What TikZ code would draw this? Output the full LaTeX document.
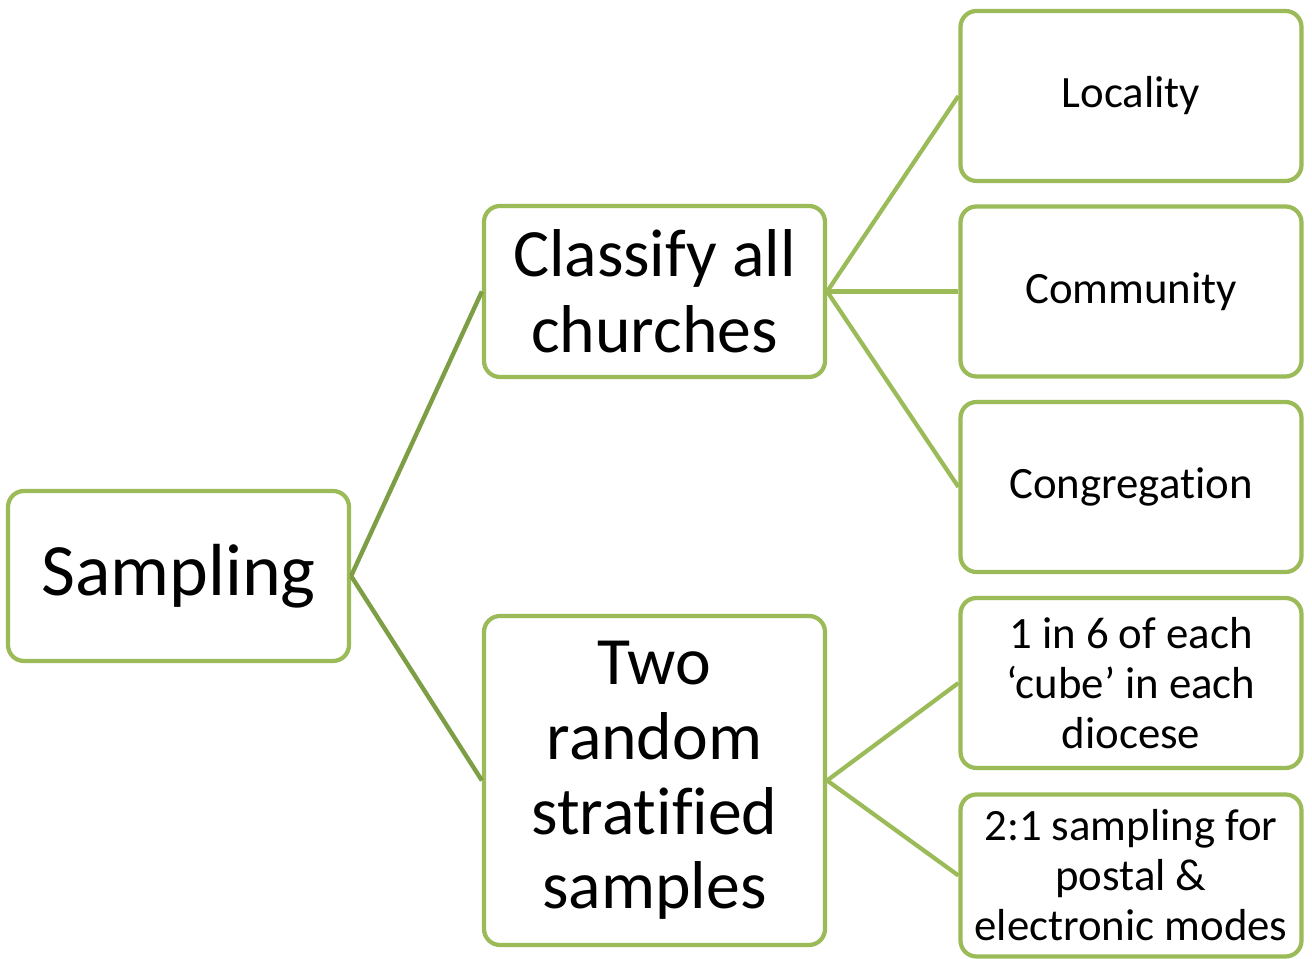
\documentclass[tikz,border=0pt]{standalone}
\usepackage{fontspec}
\setmainfont[Ligatures={NoCommon,NoDiscretionary,NoRare}]{Carlito}
\definecolor{boxgreen}{RGB}{155,187,89}
\definecolor{linegreen}{RGB}{125,158,68}

\tikzset{
  box/.style={draw=boxgreen, line width=2.4pt, rounded corners=0.32cm, fill=white,
    align=center, minimum width=6.82cm, inner sep=0pt},
  link/.style={draw=boxgreen, line width=2.4pt},
  trunk/.style={draw=linegreen, line width=2.5pt}
}

\begin{document}
\begin{tikzpicture}
            \useasboundingbox (0,0) rectangle (26.24,19.18);
            % root
            \node[box, minimum height=3.4cm, font=\fontsize{42}{48}\selectfont] (sampling) at (3.57,7.66) {Sampling};
            % second level
            \node[box, minimum height=3.42cm, font=\fontsize{38.5}{43}\selectfont] (classify) at (13.09,13.35) {Classify all\\churches};
            \node[box, minimum height=6.58cm, font=\fontsize{38.5}{42.5}\selectfont] (strata) at (13.09,3.57) {Two\\random\\stratified\\samples};
            % leaves
            \node[box, minimum height=3.4cm, font=\fontsize{25.5}{28.4}\selectfont] (locality) at (22.62,17.26) {Locality};
            \node[box, minimum height=3.4cm, font=\fontsize{25.5}{28.4}\selectfont] (community) at (22.62,13.35) {Community};
            \node[box, minimum height=3.4cm, font=\fontsize{25.5}{28.4}\selectfont] (congregation) at (22.62,9.44) {Congregation};
            \node[box, minimum height=3.4cm, font=\fontsize{25.5}{28.4}\selectfont] (cube) at (22.62,5.52) {1 in 6 of each\\‘cube’ in each\\diocese};
            \node[box, minimum height=3.24cm, font=\fontsize{25.5}{28.4}\selectfont] (modes) at (22.62,1.67) {2:1 sampling for\\postal \&\\electronic modes};
            % connectors
            \draw[trunk] (sampling.east) -- (classify.west);
            \draw[trunk] (sampling.east) -- (strata.west);
            \draw[link] (classify.east) -- (locality.west);
            \draw[link] (classify.east) -- (community.west);
            \draw[link] (classify.east) -- (congregation.west);
            \draw[link] (strata.east) -- (cube.west);
            \draw[link] (strata.east) -- (modes.west);
\end{tikzpicture}
\end{document}
